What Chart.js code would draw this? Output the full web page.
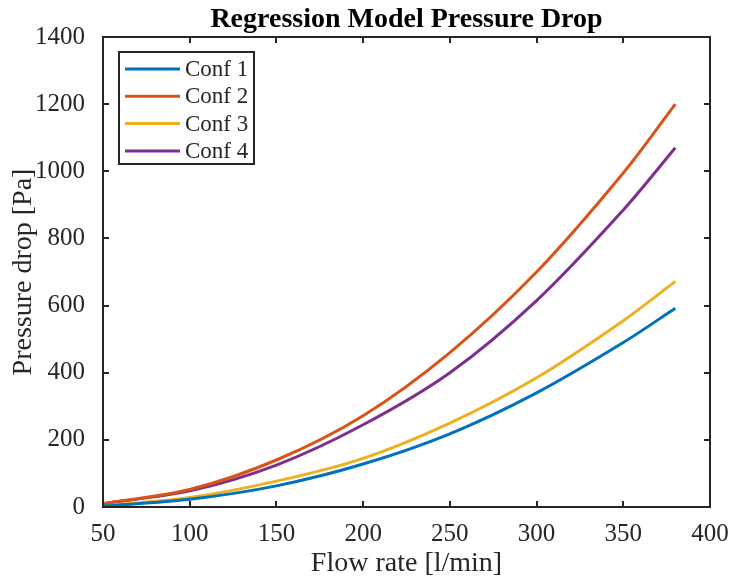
<!DOCTYPE html>
<html>
<head>
<meta charset="utf-8">
<script src="https://cdn.jsdelivr.net/npm/chart.js@4.4.1/dist/chart.umd.min.js"></script>
<style>
  html, body { margin: 0; padding: 0; background: #fff; }
  #wrap { width: 731px; height: 582px; }
</style>
</head>
<body>
<div id="wrap"><canvas id="c" width="731" height="582"></canvas></div>
<script>
const flowRate = [50, 100, 150, 200, 250, 300, 350, 380];
const conf1 = [2, 23, 63, 128, 218, 340, 490, 592];
const conf2 = [10, 52, 140, 272, 460, 700, 995, 1200];
const conf3 = [3, 28, 77, 145, 250, 385, 555, 672];
const conf4 = [10, 48, 125, 245, 400, 615, 885, 1070];
const seriesNames = ['Conf 1', 'Conf 2', 'Conf 3', 'Conf 4'];
const seriesColors = ['#0072BD', '#D95319', '#EDB120', '#7E2F8E'];
const titleText = 'Regression Model Pressure Drop';
const xTitle = 'Flow rate [l/min]';
const yTitle = 'Pressure drop [Pa]';

const FONT = '"Liberation Serif", "Times New Roman", Times, serif';
const INK = '#262626';

const allSeries = [conf1, conf2, conf3, conf4];
const datasets = allSeries.map((vals, i) => ({
  label: seriesNames[i],
  data: flowRate.map((q, j) => ({ x: q, y: vals[j] })),
  borderColor: seriesColors[i],
  backgroundColor: seriesColors[i],
  borderWidth: 3,
  pointRadius: 0,
  fill: false,
  tension: 0.3
}));

const framePlugin = {
  id: 'frame',
  afterDraw(chart) {
    const { ctx, chartArea: { left, right, top, bottom }, scales: { x, y } } = chart;
    ctx.save();
    ctx.strokeStyle = INK;
    ctx.lineWidth = 2;
    ctx.beginPath();
    x.ticks.forEach(t => {
      const px = Math.round(x.getPixelForValue(t.value));
      ctx.moveTo(px, bottom); ctx.lineTo(px, bottom - 6);
      ctx.moveTo(px, top); ctx.lineTo(px, top + 6);
    });
    y.ticks.forEach(t => {
      const py = Math.round(y.getPixelForValue(t.value));
      ctx.moveTo(left, py); ctx.lineTo(left + 6, py);
      ctx.moveTo(right, py); ctx.lineTo(right - 6, py);
    });
    ctx.stroke();
    ctx.strokeRect(left, top, right - left, bottom - top);

    // legend (inside, top-left, MATLAB style)
    const lx = left + 16, ly = top + 15, lw = 135, lh = 112;
    ctx.fillStyle = '#fff';
    ctx.fillRect(lx, ly, lw, lh);
    ctx.strokeRect(lx, ly, lw, lh);
    ctx.font = '23px ' + FONT;
    ctx.textBaseline = 'middle';
    ctx.textAlign = 'left';
    chart.data.datasets.forEach((ds, i) => {
      const yy = ly + 17 + i * 27.3;
      ctx.strokeStyle = ds.borderColor;
      ctx.lineWidth = 3;
      ctx.beginPath();
      ctx.moveTo(lx + 6, yy); ctx.lineTo(lx + 61, yy);
      ctx.stroke();
      ctx.fillStyle = INK;
      ctx.fillText(ds.label, lx + 66, yy + 1);
    });
    ctx.restore();
  }
};

new Chart(document.getElementById('c'), {
  type: 'line',
  data: { datasets },
  options: {
    responsive: false,
    animation: false,
    devicePixelRatio: 1,
    layout: { padding: { left: 0, right: 21, top: 0, bottom: 0 } },
    plugins: {
      legend: { display: false },
      tooltip: { enabled: false },
      title: {
        display: true,
        fullSize: false,
        text: titleText,
        color: '#000',
        font: { family: FONT, size: 28, weight: 'bold', lineHeight: 1.2 },
        padding: { top: 3, bottom: 0.4 }
      }
    },
    scales: {
      x: {
        type: 'linear',
        min: 50, max: 400,
        afterFit(scale) { scale.height = 75; scale.paddingRight = 0; scale.paddingLeft = 0; },
        grid: { display: false },
        border: { display: false },
        ticks: { stepSize: 50, color: INK, padding: 4, maxRotation: 0,
                 font: { family: FONT, size: 25 },
                 callback: v => String(v) },
        title: { display: true, text: xTitle, color: INK,
                 font: { family: FONT, size: 28, lineHeight: 1.2 },
                 padding: { top: 0, bottom: 1.8 } }
      },
      y: {
        type: 'linear',
        min: 0, max: 1400,
        afterFit(scale) { scale.width = 103; scale.paddingTop = 0; scale.paddingBottom = 0; },
        grid: { display: false },
        border: { display: false },
        ticks: { stepSize: 200, color: INK, padding: 10,
                 font: { family: FONT, size: 25 },
                 callback: v => String(v) },
        title: { display: true, text: yTitle, color: INK,
                 font: { family: FONT, size: 28, lineHeight: 1.2 },
                 padding: { top: 7, bottom: 0 } }
      }
    }
  },
  plugins: [framePlugin]
});
</script>
</body>
</html>
